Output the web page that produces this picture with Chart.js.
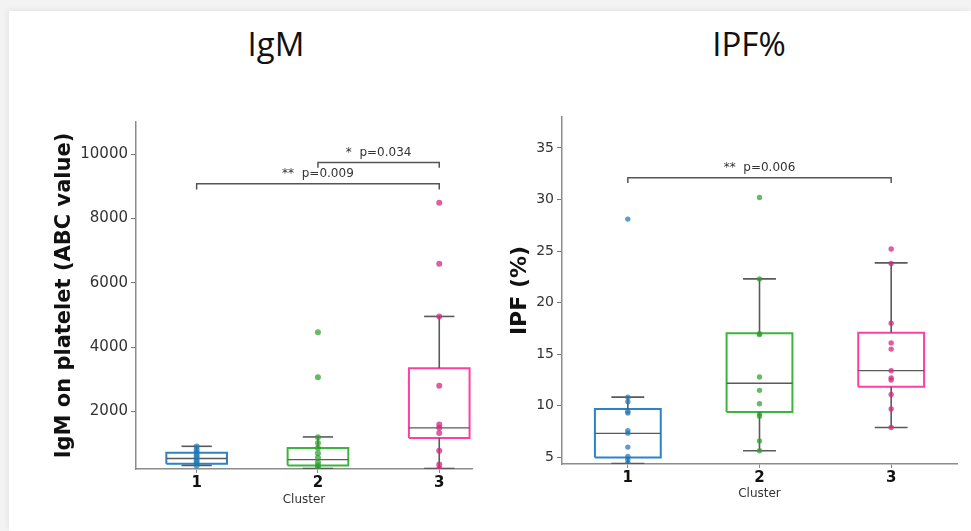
<!DOCTYPE html>
<html lang="en">
<head>
  <meta charset="UTF-8">
  <title>IgM and IPF% by Cluster</title>
  <script src="https://cdn.jsdelivr.net/npm/chart.js"></script>
  <style>
    html, body {
      margin: 0;
      padding: 0;
      width: 971px;
      height: 531px;
      overflow: hidden;
      background-color: #f3f3f3;
    }
    .slide {
      position: absolute;
      left: 9px;
      top: 11px;
      right: 0;
      bottom: 0;
      background-color: white;
      box-shadow: -2px -2px 5px rgba(0,0,0,0.05);
    }
    .title {
      position: absolute;
      top: 21px;
      font-family: "Liberation Sans Narrow", "Open Sans", sans-serif;
      font-weight: normal;
      font-size: 33px;
      color: #111;
      transform: translateX(-50%);
      white-space: nowrap;
    }
    canvas {
      position: absolute;
    }
  </style>
</head>
<body>
  <div class="slide"></div>
  <div class="title" style="left: 276px;">IgM</div>
  <div class="title" style="left: 749px;">IPF%</div>
  <canvas id="igmChart" style="left: 0px; top: 100px;" width="480" height="410"></canvas>
  <canvas id="ipfChart" style="left: 480px; top: 95px;" width="491" height="410"></canvas>

  <script>
    // Clusters on the x axis
    const clusters = ['1', '2', '3'];

    // IgM on platelet (ABC value): box statistics per cluster
    const igmQ1 = [372, 319, 1176];
    const igmMedian = [536, 500, 1486];
    const igmQ3 = [712, 860, 3344];
    const igmLow = [320, 225, 225];
    const igmHigh = [916, 1207, 4954];
    // IgM individual values per cluster
    const igmPoints1 = [910, 810, 720, 640, 560, 470, 400, 320];
    const igmPoints2 = [4460, 3060, 1200, 1020, 860, 700, 560, 420, 320, 230];
    const igmPoints3 = [8490, 6590, 4954, 2800, 1590, 1490, 1330, 780, 350, 225];
    const igmTicks = [2000, 4000, 6000, 8000, 10000];
    // significance brackets
    const igmBracketFrom = [1, 2];
    const igmBracketTo = [3, 3];
    const igmBracketY = [9080, 9740];
    const igmBracketFoot = [8900, 9580];
    const igmBracketText = ['**  p=0.009', '*  p=0.034'];

    // IPF (%): box statistics per cluster
    const ipfQ1 = [5.0, 9.39, 11.84];
    const ipfMedian = [7.33, 12.19, 13.41];
    const ipfQ3 = [9.68, 17.03, 17.09];
    const ipfLow = [4.4, 5.65, 7.9];
    const ipfHigh = [10.84, 22.31, 23.86];
    // IPF individual values per cluster
    const ipfPoints1 = [28.1, 10.84, 10.4, 9.45, 9.3, 7.6, 7.35, 6.0, 5.1, 4.8, 4.45];
    const ipfPoints2 = [30.2, 22.3, 17.0, 16.9, 12.8, 11.5, 10.2, 9.2, 9.0, 6.6, 5.65];
    const ipfPoints3 = [25.2, 23.8, 18.0, 16.1, 15.5, 13.4, 12.7, 12.5, 11.1, 9.7, 7.9];
    const ipfTicks = [5, 10, 15, 20, 25, 30, 35];
    const ipfBracketFrom = [1];
    const ipfBracketTo = [3];
    const ipfBracketY = [32.1];
    const ipfBracketFoot = [31.6];
    const ipfBracketText = ['**  p=0.006'];

    // Styling
    const boxColors = ['#2c83c6', '#3db53d', '#ff3ea5'];
    const dotColors = ['rgba(31, 119, 180, 0.72)', 'rgba(44, 160, 44, 0.72)', 'rgba(214, 39, 130, 0.75)'];
    const lineGray = '#5a5a5a';
    const tickFont = 'DejaVu Sans';

    function seg(x0, y0, x1, y1, color, width, order) {
      return {
        type: 'line',
        data: [{x: x0, y: y0}, {x: x1, y: y1}],
        borderColor: color,
        borderWidth: width,
        pointRadius: 0,
        fill: false,
        order: order
      };
    }

    function buildDatasets(s) {
      const ds = [];
      const half = 0.25, cap = 0.125;
      clusters.forEach((c, i) => {
        const x = i + 1;
        // box outline
        ds.push({
          type: 'line',
          data: [
            {x: x - half, y: s.q1[i]}, {x: x + half, y: s.q1[i]},
            {x: x + half, y: s.q3[i]}, {x: x - half, y: s.q3[i]},
            {x: x - half, y: s.q1[i]}
          ],
          borderColor: boxColors[i],
          borderWidth: s.boxWidth,
          pointRadius: 0,
          fill: false,
          order: 3
        });
        // whiskers, caps and median
        ds.push(seg(x, s.q3[i], x, s.high[i], lineGray, 1.6, 2));
        ds.push(seg(x, s.q1[i], x, s.low[i], lineGray, 1.6, 2));
        ds.push(seg(x - cap, s.high[i], x + cap, s.high[i], lineGray, 1.6, 2));
        ds.push(seg(x - cap, s.low[i], x + cap, s.low[i], lineGray, 1.6, 2));
        ds.push(seg(x - half, s.median[i], x + half, s.median[i], lineGray, 1.3, 2));
        // individual values
        ds.push({
          type: 'scatter',
          data: s.points[i].map(v => ({x: x, y: v})),
          backgroundColor: dotColors[i],
          borderWidth: 0,
          pointRadius: s.dotRadius,
          order: 0
        });
      });
      // significance brackets
      s.bFrom.forEach((from, k) => {
        const to = s.bTo[k];
        ds.push({
          type: 'line',
          data: [
            {x: from, y: s.bFoot[k]}, {x: from, y: s.bY[k]},
            {x: to, y: s.bY[k]}, {x: to, y: s.bFoot[k]}
          ],
          borderColor: '#555',
          borderWidth: 1.5,
          pointRadius: 0,
          fill: false,
          order: 1
        });
      });
      return ds;
    }

    // writes the p-value labels above each bracket
    const bracketLabels = {
      id: 'bracketLabels',
      afterDatasetsDraw(chart, args, opts) {
        const ctx = chart.ctx;
        const xs = chart.scales.x, ys = chart.scales.y;
        ctx.save();
        ctx.font = opts.size + 'px ' + tickFont;
        ctx.fillStyle = '#333';
        ctx.textAlign = 'center';
        ctx.textBaseline = 'middle';
        opts.text.forEach((t, k) => {
          const px = xs.getPixelForValue((opts.from[k] + opts.to[k]) / 2);
          const py = ys.getPixelForValue(opts.y[k]) - 10;
          ctx.fillText(t, px, py);
        });
        ctx.restore();
      }
    };

    function makeChart(id, s) {
      return new Chart(document.getElementById(id), {
        type: 'scatter',
        data: { datasets: buildDatasets(s) },
        plugins: [bracketLabels],
        options: {
          responsive: false,
          animation: false,
          layout: { padding: s.padding },
          plugins: {
            legend: { display: false },
            tooltip: { enabled: false },
            bracketLabels: { text: s.bText, from: s.bFrom, to: s.bTo, y: s.bY, size: s.noteSize }
          },
          scales: {
            x: {
              type: 'linear',
              min: 0.5,
              max: s.xMax,
              afterFit: (scale) => { scale.height = 41; },
              afterBuildTicks: (scale) => { scale.ticks = clusters.map((c, i) => ({value: i + 1})); },
              ticks: {
                callback: (v) => clusters[v - 1],
                font: { family: tickFont, size: 15, weight: 'bold' },
                color: '#111',
                padding: 1,
                maxRotation: 0
              },
              grid: { display: true, drawOnChartArea: false, tickLength: 4, color: '#888' },
              border: { display: true, color: '#8c8c8c', width: 1.5 },
              title: {
                display: true,
                text: 'Cluster',
                font: { family: tickFont, size: 12 },
                color: '#333',
                padding: { top: 0, bottom: s.xTitlePad }
              }
            },
            y: {
              type: 'linear',
              min: s.yMin,
              max: s.yMax,
              afterFit: (scale) => { scale.width = s.yWidth; },
              afterBuildTicks: (scale) => { scale.ticks = s.ticks.map(v => ({value: v})); },
              ticks: {
                callback: (v) => String(v),
                font: { family: tickFont, size: s.tickSize },
                color: '#333',
                padding: 3
              },
              grid: { display: true, drawOnChartArea: false, tickLength: 5, color: '#777' },
              border: { display: true, color: '#8c8c8c', width: 1.5 },
              title: {
                display: true,
                text: s.yTitle,
                font: { family: tickFont, size: s.yTitleSize, weight: 'bold' },
                color: '#111',
                padding: { top: 0, bottom: 0 }
              }
            }
          }
        }
      });
    }

    makeChart('igmChart', {
      q1: igmQ1, median: igmMedian, q3: igmQ3, low: igmLow, high: igmHigh,
      points: [igmPoints1, igmPoints2, igmPoints3],
      ticks: igmTicks,
      bFrom: igmBracketFrom, bTo: igmBracketTo, bY: igmBracketY, bFoot: igmBracketFoot, bText: igmBracketText,
      yMin: 210, yMax: 11000, xMax: 3.27,
      yTitle: 'IgM on platelet (ABC value)', yTitleSize: 21, tickSize: 15,
      yWidth: 84, padding: { left: 52, top: 22, right: 8, bottom: 0 },
      boxWidth: 2, dotRadius: 3, noteSize: 12, xTitlePad: 3
    });

    makeChart('ipfChart', {
      q1: ipfQ1, median: ipfMedian, q3: ipfQ3, low: ipfLow, high: ipfHigh,
      points: [ipfPoints1, ipfPoints2, ipfPoints3],
      ticks: ipfTicks,
      bFrom: ipfBracketFrom, bTo: ipfBracketTo, bY: ipfBracketY, bFoot: ipfBracketFoot, bText: ipfBracketText,
      yMin: 4.36, yMax: 38, xMax: 3.5,
      yTitle: 'IPF (%)', yTitleSize: 22, tickSize: 14,
      yWidth: 55, padding: { left: 27, top: 22, right: 14, bottom: 0 },
      boxWidth: 2, dotRadius: 2.7, noteSize: 12, xTitlePad: 4
    });
  </script>
</body>
</html>
